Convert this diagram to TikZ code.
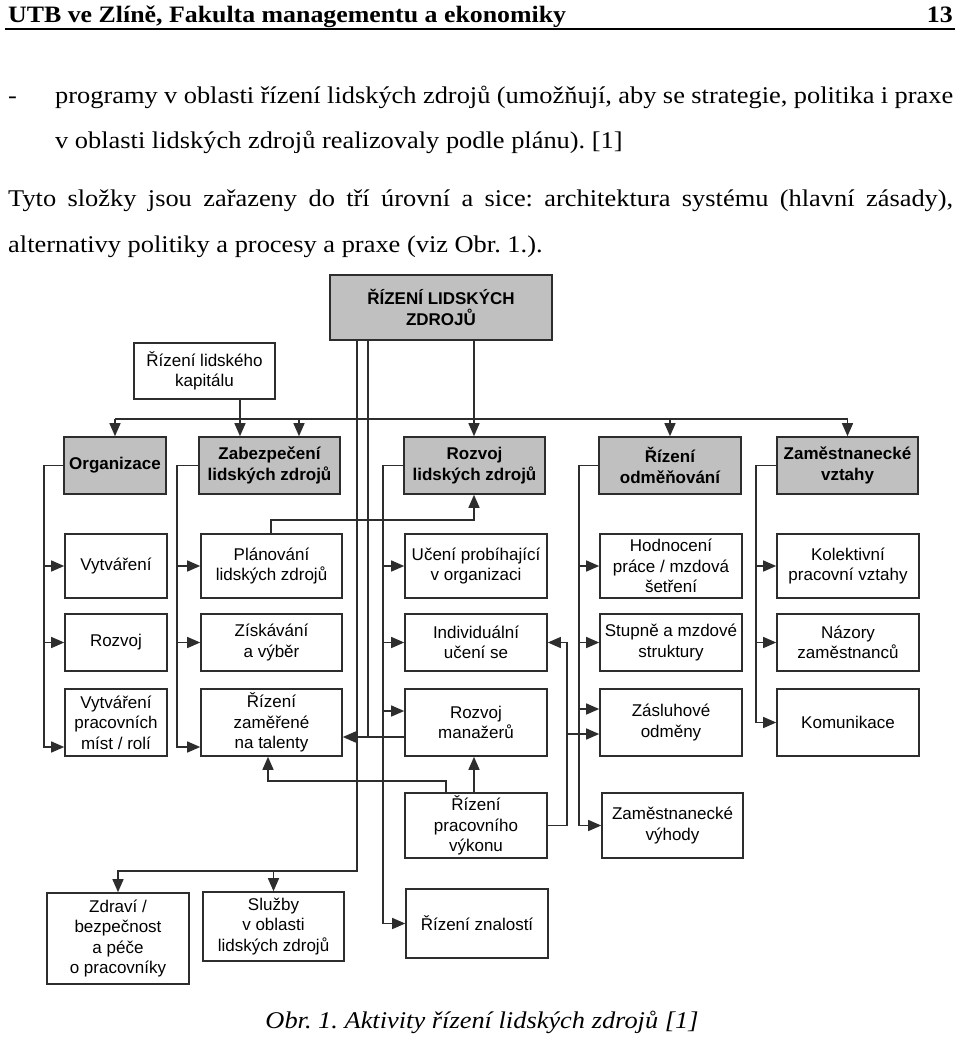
\documentclass[tikz,border=0pt]{standalone}
\usepackage{fontspec}
\setmainfont{Liberation Serif}[FakeStretch=1.1]
\setsansfont{Liberation Sans}
\usetikzlibrary{arrows.meta,positioning}
\definecolor{boxgray}{RGB}{192,192,192}
\definecolor{ink}{RGB}{45,45,45}
\tikzset{
    box/.style={draw=ink, line width=1.6pt, align=center, inner sep=2pt, font=\sffamily\fontsize{17}{20.5}\selectfont},
    gbox/.style={box, fill=boxgray, font=\sffamily\bfseries\fontsize{17}{20.5}\selectfont},
    link/.style={draw=ink, line width=1.4pt},
    arr/.style={link, -{Triangle[length=13pt,width=11pt]}},
    body/.style={inner sep=0pt, font=\frenchspacing\fontsize{24}{29}\selectfont}
}

\begin{document}
\begin{tikzpicture}[x=1pt,y=-1pt]
    \useasboundingbox (0,0) rectangle (960,1039);

    % Page text
    \node[body, anchor=base west, font=\bfseries\fontsize{23.5}{28}\selectfont] (head) at (8,22) {UTB ve Zlíně, Fakulta managementu a ekonomiky};
    \node[body, anchor=base east, font=\bfseries\fontsize{23.5}{28}\selectfont] (page) at (953,22) {13};
    \draw[line width=1.8pt] (5,29) -- (955,29);
    \node[body, anchor=base west] (dash) at (8,103) {-};
    \node[body, anchor=base west] (l1) at (55,103) {\makebox[898pt][s]{programy v oblasti řízení lidských zdrojů (umožňují, aby se strategie, politika i praxe}};
    \node[body, anchor=base west] (l2) at (55,148) {v oblasti lidských zdrojů realizovaly podle plánu). [1]};
    \node[body, anchor=base west] (l3) at (8,206) {\makebox[945pt][s]{Tyto složky jsou zařazeny do tří úrovní a sice: architektura systému (hlavní zásady),}};
    \node[body, anchor=base west] (l4) at (8,252) {alternativy politiky a procesy a praxe (viz Obr. 1.).};
    \node[body, anchor=base, font=\frenchspacing\itshape\fontsize{24}{29}\selectfont] (cap) at (482,1028) {Obr. 1. Aktivity řízení lidských zdrojů [1]};

    % Nodes
    \node[gbox, minimum width=222pt, minimum height=65pt] (top) at (441,307.5) {ŘÍZENÍ LIDSKÝCH\\ZDROJŮ};
    \node[box, minimum width=141pt, minimum height=56pt] (kap) at (204.5,371) {Řízení lidského\\kapitálu};

    \node[gbox, minimum width=102pt, minimum height=57pt] (org) at (115,465.5) {Organizace};
    \node[gbox, minimum width=141pt, minimum height=57pt] (zab) at (269.5,465.5) {Zabezpečení\\lidských zdrojů};
    \node[gbox, minimum width=141pt, minimum height=57pt] (rlz) at (474.5,465.5) {Rozvoj\\lidských zdrojů};
    \node[gbox, minimum width=142pt, minimum height=57pt] (odm) at (670,465.5) {Řízení\\odměňování};
    \node[gbox, minimum width=141pt, minimum height=57pt] (vzt) at (847.5,465.5) {Zaměstnanecké\\vztahy};

    \node[box, minimum width=102pt, minimum height=64pt] (vyt) at (116,566) {Vytváření};
    \node[box, minimum width=141pt, minimum height=64pt] (pla) at (271.5,566) {Plánování\\lidských zdrojů};
    \node[box, minimum width=142pt, minimum height=64pt] (uce) at (476,566) {Učení probíhající\\v organizaci};
    \node[box, minimum width=142pt, minimum height=64pt] (hod) at (671,566) {Hodnocení\\práce / mzdová\\šetření};
    \node[box, minimum width=142pt, minimum height=64pt] (kol) at (848,566) {Kolektivní\\pracovní vztahy};

    \node[box, minimum width=102pt, minimum height=57pt] (roz) at (116,642.5) {Rozvoj};
    \node[box, minimum width=141pt, minimum height=57pt] (zis) at (271.5,642.5) {Získávání\\a výběr};
    \node[box, minimum width=142pt, minimum height=57pt] (ind) at (476,642.5) {Individuální\\učení se};
    \node[box, minimum width=142pt, minimum height=57pt] (stu) at (671,642.5) {Stupně a mzdové\\struktury};
    \node[box, minimum width=142pt, minimum height=57pt] (naz) at (848,642.5) {Názory\\zaměstnanců};

    \node[box, minimum width=102pt, minimum height=67pt] (vpm) at (116,722.5) {Vytváření\\pracovních\\míst / rolí};
    \node[box, minimum width=141pt, minimum height=67pt] (tal) at (271.5,722.5) {Řízení\\zaměřené\\na talenty};
    \node[box, minimum width=142pt, minimum height=67pt] (man) at (476,722.5) {Rozvoj\\manažerů};
    \node[box, minimum width=142pt, minimum height=67pt] (zas) at (671,722.5) {Zásluhové\\odměny};
    \node[box, minimum width=142pt, minimum height=67pt] (kom) at (848,722.5) {Komunikace};

    \node[box, minimum width=142pt, minimum height=65pt] (vyk) at (476,825.5) {Řízení\\pracovního\\výkonu};
    \node[box, minimum width=141pt, minimum height=65pt] (vyh) at (672.5,825.5) {Zaměstnanecké\\výhody};

    \node[box, minimum width=142pt, minimum height=91pt] (zdr) at (118,938.5) {Zdraví /\\bezpečnost\\a péče\\o pracovníky};
    \node[box, minimum width=141pt, minimum height=69pt] (slu) at (273.5,926.5) {Služby\\v oblasti\\lidských zdrojů};
    \node[box, minimum width=142pt, minimum height=69pt] (zna) at (477,923.5) {Řízení znalostí};

    % edges, top level
    \draw[arr] (top.south -| 474,0) -- (rlz.north -| 474,0);
    \draw[link] (org.north |- 0,419) -- (vzt.north |- 0,419);
    \draw[arr] (org.north |- 0,419) -- (org.north);
    \draw[arr] (299,419) -- (zab.north -| 299,0);
    \draw[arr] (odm.north |- 0,419) -- (odm.north);
    \draw[arr] (vzt.north |- 0,419) -- (vzt.north);
    \draw[arr] (kap.south -| 240,0) -- (zab.north -| 240,0);
    \draw[link] (top.south -| 368,0) -- (368,737);
    \draw[arr] (man.west |- 0,737) -- (tal.east |- 0,737);
    \draw[arr] (top.south -| 357,0) -- (357,871) -| (zdr.north);
    \draw[arr] (slu.north |- 0,871) -- (slu.north);

    % edges, columns
    \draw[arr] (org.west) -| (44,747) -- (vpm.west |- 0,747);
    \foreach \n in {vyt,roz} \draw[arr] (44,0 |- \n.west) -- (\n.west);
    \draw[arr] (zab.west) -| (177,747) -- (tal.west |- 0,747);
    \foreach \n in {pla,zis} \draw[arr] (177,0 |- \n.west) -- (\n.west);
    \draw[arr] (rlz.west) -| (383,923.5) -- (zna.west);
    \foreach \n in {uce,ind} \draw[arr] (383,0 |- \n.west) -- (\n.west);
    \draw[arr] (383,711) -- (man.west |- 0,711);
    \draw[arr] (odm.west) -| (579,825.5) -- (vyh.west);
    \foreach \n in {hod,stu} \draw[arr] (579,0 |- \n.west) -- (\n.west);
    \draw[arr] (579,709) -- (zas.west |- 0,709);
    \draw[arr] (vzt.west) -| (756,722.5) -- (kom.west);
    \foreach \n in {kol,naz} \draw[arr] (756,0 |- \n.west) -- (\n.west);

    % cross links
    \draw[arr] (pla.north -| 271,0) |- (474,520) -- (rlz.south -| 474,0);
    \draw[arr] (vyk.north -| 474,0) -- (man.south -| 474,0);
    \draw[arr] (vyk.north -| 446,0) |- (268,781) -- (tal.south -| 268,0);
    \draw[arr] (vyk.east) -| (567,642.5) -- (ind.east);
    \draw[arr] (567,734) -- (zas.west |- 0,734);
\end{tikzpicture}
\end{document}
